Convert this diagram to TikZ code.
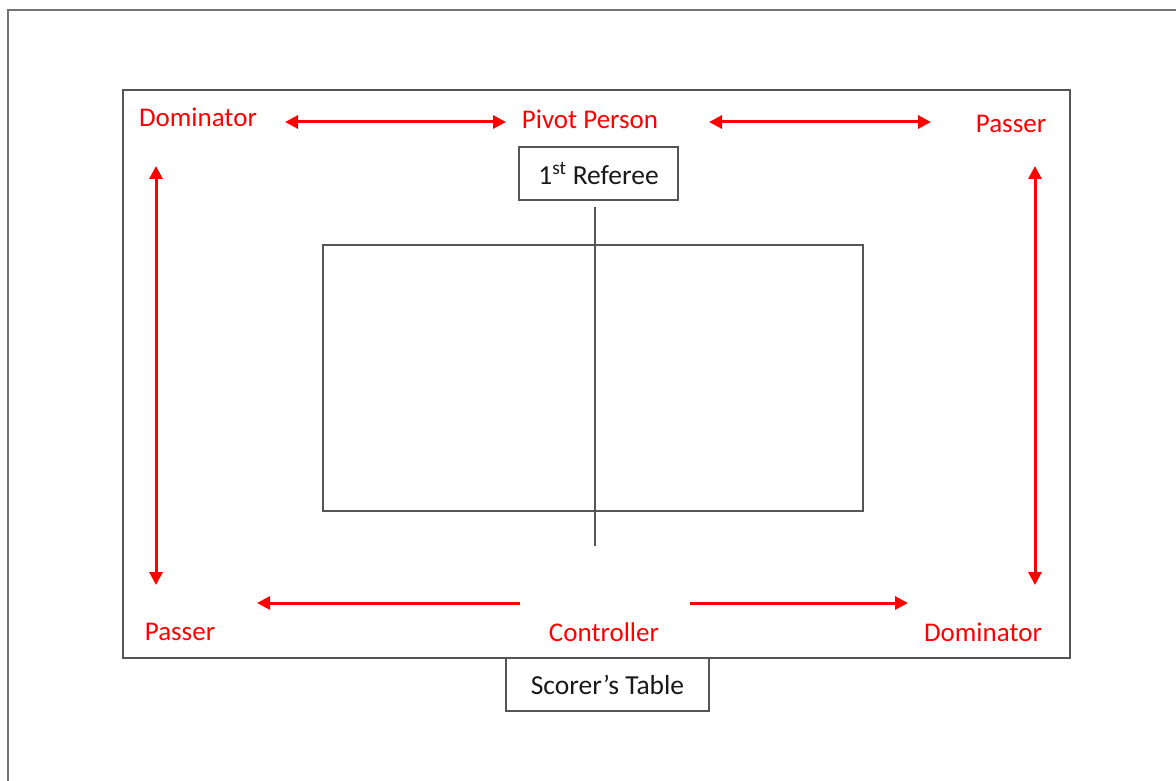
\documentclass[tikz,border=0pt]{standalone}
\usepackage{fontspec}
\setmainfont{Carlito}
\usetikzlibrary{arrows.meta}
\definecolor{frame}{RGB}{85,85,85}
\definecolor{lbl}{RGB}{255,0,0}
\tikzset{
  redlbl/.style={text=lbl, font=\fontsize{27}{31}\selectfont, inner sep=0pt, anchor=center},
  boxlbl/.style={draw=frame, line width=1.6pt, font=\fontsize{27.5}{31}\selectfont, text=black!90, minimum width=#1, minimum height=53pt, inner sep=0pt},
  redarrow/.style={draw=lbl, line width=3pt, -{Triangle[length=13pt,width=13pt]}},
  redboth/.style={draw=lbl, line width=3pt, {Triangle[length=13pt,width=13pt]}-{Triangle[length=13pt,width=13pt]}},
  greyline/.style={draw=frame, line width=1.6pt}
}
\begin{document}
\begin{tikzpicture}[x=1pt,y=-1pt]
\useasboundingbox (0,0) rectangle (1176,781);
\fill[white] (0,0) rectangle (1176,781);
% outer frame (partial)
\draw[draw=black!55, line width=2pt] (8,781) -- (8,10) -- (1176,10);
% inner frame
\draw[greyline] (123,90) rectangle (1070,658);
% court
\draw[greyline] (323,245) rectangle (863,511);
\coordinate (netT) at (595,207);
\coordinate (netB) at (595,546);
\draw[greyline] (netT) -- (netB);
% boxes
\node[boxlbl=159pt, fill=white] (ref) at (598.5,173.5) {1\textsuperscript{st} Referee};
\node[boxlbl=203pt, fill=white] (score) at (607.5,684.5) {\raisebox{-2pt}{Scorer’s Table}};
% labels
\node[redlbl] (domTL) at (198,117) {Dominator};
\node[redlbl] (pivot) at (590,119) {Pivot Person};
\node[redlbl] (passTR) at (1011,124) {Passer};
\node[redlbl] (passBL) at (180,632) {Passer};
\node[redlbl] (ctrl) at (604,632) {Controller};
\node[redlbl] (domBR) at (983,632) {Dominator};
% arrow end points
\coordinate (a1) at (285,122); \coordinate (a2) at (506,122);
\coordinate (b1) at (709,122); \coordinate (b2) at (931,122);
\coordinate (c1) at (156,166); \coordinate (c2) at (156,585);
\coordinate (d1) at (1035,166); \coordinate (d2) at (1035,585);
\coordinate (e1) at (520,603); \coordinate (e2) at (257,603);
\coordinate (f1) at (690,603); \coordinate (f2) at (908,603);
\draw[redboth] (a1) -- (a2);
\draw[redboth] (b1) -- (b2);
\draw[redboth] (c1) -- (c2);
\draw[redboth] (d1) -- (d2);
\draw[redarrow] (e1) -- (e2);
\draw[redarrow] (f1) -- (f2);
\end{tikzpicture}
\end{document}
